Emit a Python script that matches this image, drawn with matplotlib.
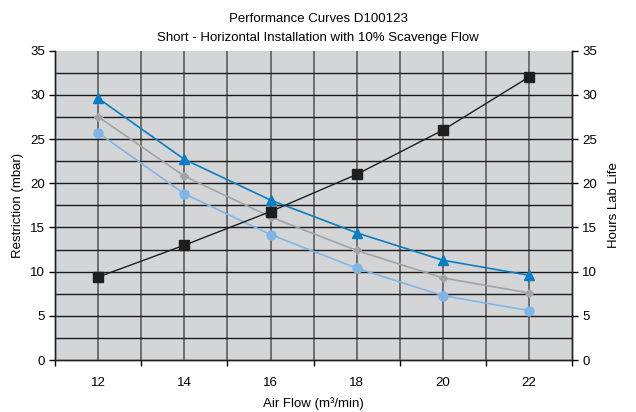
import matplotlib
matplotlib.use('Agg')
from matplotlib import pyplot as plt
import numpy as np

plt.rcParams['font.family'] = ['Liberation Sans Narrow', 'Liberation Sans', 'DejaVu Sans']

# data
air_flow = [12, 14, 16, 18, 20, 22]
restriction_a = [29.6, 22.7, 18.1, 14.4, 11.3, 9.6]   # dark blue triangles
restriction_b = [27.5, 20.8, 16.2, 12.4, 9.3, 7.6]    # gray diamonds
restriction_c = [25.7, 18.8, 14.2, 10.4, 7.3, 5.6]    # light blue circles
lab_life = [9.4, 13.0, 16.8, 21.0, 26.0, 32.0]        # black squares, right axis

x_labels = ['12', '14', '16', '18', '20', '22']

fig = plt.figure(figsize=(6.36, 4.12), dpi=100)
ax = fig.add_axes([0.087, 0.126, 0.812, 0.751])
ax.set_facecolor('#d4d5d7')

# grid
for v in range(12, 23):
    ax.axvline(v, color='#6e6e6e', lw=1.4, zorder=1)
for h in np.arange(2.5, 35, 2.5):
    ax.axhline(h, color='#1a1a1a', lw=1.0, zorder=1)

ax.plot(air_flow, restriction_b, color='#a3a3a3', lw=1.2, marker='D', ms=4.5, zorder=3)
ax.plot(air_flow, restriction_c, color='#7fb6e6', lw=1.2, marker='o', ms=6.5, zorder=3)
ax.plot(air_flow, restriction_a, color='#0a7ec4', lw=1.2, marker='^', ms=7, zorder=4)

ax.set_xlim(11, 23)
ax.set_ylim(0, 35)
ax.set_xticks(air_flow)
ax.set_xticklabels(x_labels)
ax.set_xticks(range(11, 24, 2), minor=True)
ax.tick_params(axis='x', which='major', length=0, labelsize=9.5, pad=12)
ax.tick_params(axis='x', which='minor', length=4, direction='out', width=1)
ax.set_yticks(range(0, 36, 5))
ax.tick_params(axis='y', length=4, direction='out', labelsize=9.5, width=1)
ax.set_xlabel('Air Flow (m³/min)', fontsize=9.5, labelpad=6)
ax.set_ylabel('Restriction (mbar)', fontsize=9.5)

ax2 = ax.twinx()
ax2.plot(air_flow, lab_life, color='#1e1e1e', lw=1.0, marker='s', ms=6.5, zorder=5)
ax2.set_ylim(0, 35)
ax2.set_yticks(range(0, 36, 5))
ax2.tick_params(axis='y', length=4, direction='out', labelsize=9.5, width=1)
ax2.set_ylabel('Hours Lab Life', fontsize=9.5, labelpad=8)

for a in (ax, ax2):
    for s in a.spines.values():
        s.set_color('#222222')
        s.set_linewidth(1.0)
ax.spines['top'].set_visible(False)
ax2.spines['top'].set_visible(False)

fig.text(0.5, 0.955, 'Performance Curves D100123', ha='center', va='center', fontsize=9.5)
fig.text(0.5, 0.907, 'Short - Horizontal Installation with 10% Scavenge Flow',
         ha='center', va='center', fontsize=9.5)

fig.savefig('out.png', dpi=100)
